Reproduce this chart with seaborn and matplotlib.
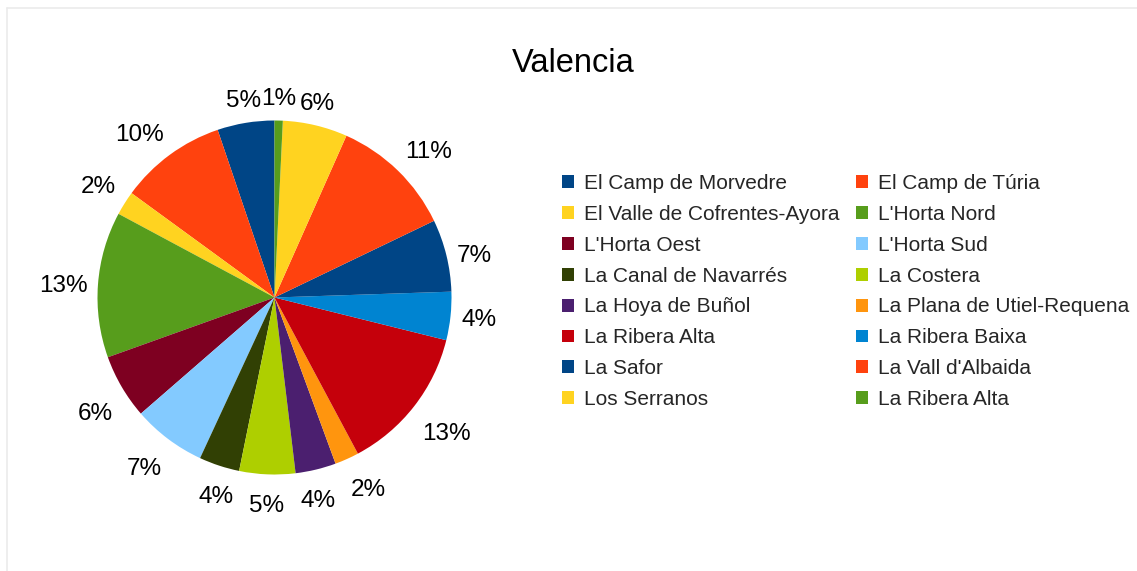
import matplotlib.pyplot as plt
import numpy as np
import seaborn as sns
from matplotlib.lines import Line2D
from matplotlib.transforms import offset_copy

# comarcas de Valencia, en el orden de la leyenda
comarcas = [
    "El Camp de Morvedre", "El Camp de Túria",
    "El Valle de Cofrentes-Ayora", "L'Horta Nord",
    "L'Horta Oest", "L'Horta Sud",
    "La Canal de Navarrés", "La Costera",
    "La Hoya de Buñol", "La Plana de Utiel-Requena",
    "La Ribera Alta", "La Ribera Baixa",
    "La Safor", "La Vall d'Albaida",
    "Los Serranos", "La Ribera Alta",
]
# porcentajes
shares = [5.2, 9.75, 2.2, 13.3, 5.9, 6.7, 3.7, 5.1,
          3.7, 2.2, 13.3, 4.4, 6.6, 11.2, 5.9, 0.75]
colores = ["#004586", "#ff420e", "#ffd320", "#579d1c",
           "#7e0021", "#83caff", "#314004", "#aecf00",
           "#4b1f6f", "#ff950e", "#c5000b", "#0084d1",
           "#004586", "#ff420e", "#ffd320", "#579d1c"]

sns.set_theme(style='white')
plt.rcParams['font.family'] = ['Liberation Sans', 'DejaVu Sans']

W, H = 1137, 571
fig = plt.figure(figsize=(W / 100, H / 100), dpi=100)
fig.patch.set_facecolor('white')

# marco gris claro (solo se ven el borde superior e izquierdo)
fig.add_artist(Line2D([6.5 / W, 6.5 / W], [0, 1 - 8 / H], color='#ebebeb', lw=1.2))
fig.add_artist(Line2D([6.5 / W, 1], [1 - 8 / H, 1 - 8 / H], color='#ebebeb', lw=1.2))

cx, cy, r = 274.5, 297.5, 177
ax = fig.add_axes([(cx - r) / W, (H - cy - r) / H, 2 * r / W, 2 * r / H])

total = sum(shares)
etiquetas = ['{:.0f}%'.format(v / total * 100) for v in shares]

wedges, texts = ax.pie(shares, labels=etiquetas, colors=sns.color_palette(colores),
                       startangle=90, counterclock=True, labeldistance=1.06,
                       wedgeprops=dict(linewidth=0),
                       textprops=dict(fontsize=17.5, color='black'))
ax.set_xlim(-1, 1)
ax.set_ylim(-1, 1)

# alineacion de las etiquetas como en LibreOffice
lim = np.sin(np.radians(22.5))
for w, t in zip(wedges, texts):
    ang = np.radians((w.theta1 + w.theta2) / 2)
    dx, dy = np.cos(ang), np.sin(ang)
    if abs(dx) < lim:
        t.set_ha('center')
    else:
        t.set_ha('left' if dx > 0 else 'right')
    if abs(dy) < lim:
        t.set_va('center')
        t.set_transform(offset_copy(ax.transData, fig=fig, y=-2, units='points'))
    elif dy > 0:
        t.set_va('bottom')
    else:
        t.set_va('top')
        t.set_transform(offset_copy(ax.transData, fig=fig, y=-7.5, units='points'))

fig.text(573 / W, 1 - 72 / H, 'Valencia', ha='center', va='baseline',
         fontsize=23.5, color='black')

# leyenda en dos columnas, ordenada por filas
orden = list(range(0, len(comarcas), 2)) + list(range(1, len(comarcas), 2))
fig.legend([wedges[i] for i in orden], [comarcas[i] for i in orden],
           ncol=2, loc='upper left', bbox_to_anchor=(562 / W, 1 - 174 / H),
           frameon=False, borderpad=0, borderaxespad=0, fontsize=15,
           handlelength=0.58, handleheight=0.58, handletextpad=0.48,
           labelspacing=0.57, columnspacing=0.8)

plt.savefig('out.png', dpi=100)
